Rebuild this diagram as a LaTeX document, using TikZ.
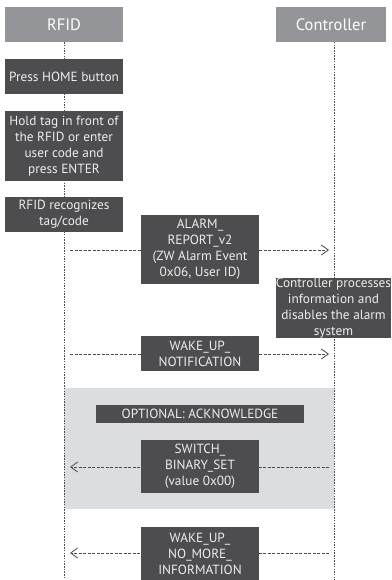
\documentclass[tikz,border=0pt]{standalone}
\usepackage{fontspec}
\setmainfont{PT Sans}
\usetikzlibrary{arrows.meta}
\definecolor{hdr}{HTML}{939598}
\definecolor{dark}{HTML}{4D4D4F}
\definecolor{boxtxt}{HTML}{EDEDEE}
\definecolor{optbg}{HTML}{DCDDDE}
\definecolor{linec}{HTML}{4D4D4F}
\tikzset{
  header/.style={fill=hdr,text=white,inner sep=0pt,font=\fontsize{16.5}{18}\selectfont},
  dbox/.style={fill=dark,text=boxtxt,inner sep=0pt,align=center,font=\fontsize{13.3}{16}\selectfont},
  lifeline/.style={draw=linec,line width=0.75pt,dash pattern=on 1.5pt off 1.2pt},
  msg/.style={draw=linec,line width=0.75pt,dash pattern=on 3pt off 1.5pt,-{Straight Barb[length=7pt,width=10pt,line width=0.8pt]}}
}
\begin{document}
\begin{tikzpicture}[x=1pt,y=-1pt]
\useasboundingbox (0,0) rectangle (391,580);
% optional region
\fill[optbg] (64,388) rectangle (334,509);
% headers
\node[header,minimum width=118pt,minimum height=35pt] (rfid) at (64,24.5) {RFID};
\node[header,minimum width=110pt,minimum height=35pt] (ctrl) at (331,24.5) {Controller};
% lifelines
\coordinate (rfidend) at (64,580);
\coordinate (ctrltop) at (334,42);
\coordinate (ctrlend) at (334,580);
\draw[lifeline] (rfid.south) -- (rfidend);
\draw[lifeline] (ctrltop) -- (ctrlend);
% RFID steps
\node[dbox,minimum width=118pt,minimum height=35pt] (home) at (64,76.5) {Press HOME button};
\node[dbox,minimum width=118pt,minimum height=70pt] (hold) at (64,146) {Hold tag in front of\\the RFID or enter\\user code and\\press ENTER};
\node[dbox,minimum width=118pt,minimum height=35pt] (recog) at (64,214.5) {RFID recognizes\\tag/code};
% controller step
\node[dbox,minimum width=115pt,minimum height=58pt] (proc) at (333.5,308) {Controller processes\\information and\\disables the alarm\\system};
% messages
\coordinate (a1s) at (70,250); \coordinate (a1e) at (329,250);
\coordinate (a2s) at (70,354); \coordinate (a2e) at (329,354);
\coordinate (a3s) at (329,467); \coordinate (a3e) at (70,467);
\coordinate (a4s) at (329,553); \coordinate (a4e) at (70,553);
\draw[msg] (a1s) -- (a1e);
\draw[msg] (a2s) -- (a2e);
\draw[msg] (a3s) -- (a3e);
\draw[msg] (a4s) -- (a4e);
\node[dbox,minimum width=118pt,minimum height=69pt] (alarm) at (200,249.5) {ALARM\_\\REPORT\_v2\\(ZW Alarm Event\\0x06, User ID)};
\node[dbox,minimum width=118pt,minimum height=35pt] (wake) at (200,353.5) {WAKE\_UP\_\\NOTIFICATION};
\node[dbox,minimum width=208pt,minimum height=18pt] (opt) at (200,414) {OPTIONAL: ACKNOWLEDGE};
\node[dbox,minimum width=118pt,minimum height=53pt] (sw) at (200,466.5) {SWITCH\_\\BINARY\_SET\\(value 0x00)};
\node[dbox,minimum width=118pt,minimum height=53pt] (nomore) at (200,553.5) {WAKE\_UP\_\\NO\_MORE\_\\INFORMATION};
\end{tikzpicture}
\end{document}
